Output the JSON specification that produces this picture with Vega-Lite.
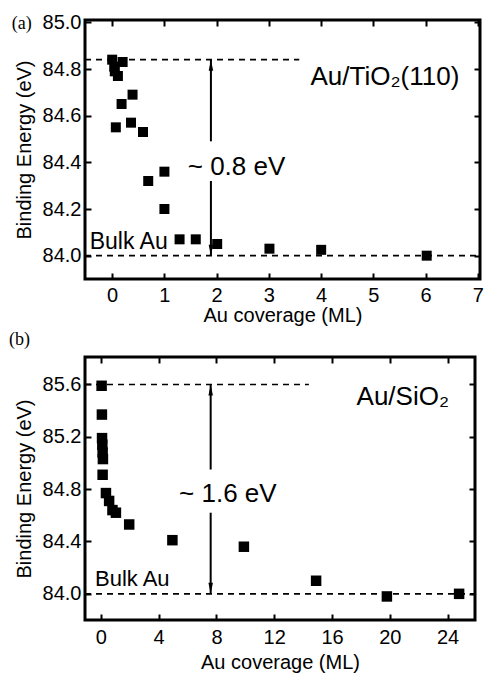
{
  "$schema": "https://vega.github.io/schema/vega-lite/v6.json",
  "padding": {"left": 7, "top": 10, "right": 0, "bottom": 2},
  "spacing": 2,
  "config": {
    "font": "Liberation Sans",
    "view": {"stroke": "black", "strokeWidth": 3},
    "axis": {
      "grid": false,
      "domain": false,
      "tickColor": "black",
      "tickWidth": 2,
      "tickSize": -6,
      "labelColor": "black",
      "labelFont": "Liberation Sans",
      "labelFontSize": 20,
      "labelFontWeight": "normal",
      "titleColor": "black",
      "titleFont": "Liberation Sans",
      "titleFontSize": 20,
      "titleFontWeight": "normal"
    }
  },
  "datasets": {
    "a_points": [
      {"x": 0.0, "y": 84.84}, {"x": 0.04, "y": 84.81}, {"x": 0.2, "y": 84.83},
      {"x": 0.05, "y": 84.79}, {"x": 0.11, "y": 84.77}, {"x": 0.18, "y": 84.65},
      {"x": 0.39, "y": 84.69}, {"x": 0.07, "y": 84.55}, {"x": 0.36, "y": 84.57},
      {"x": 0.59, "y": 84.53}, {"x": 0.69, "y": 84.32}, {"x": 1.0, "y": 84.36},
      {"x": 1.0, "y": 84.2}, {"x": 1.29, "y": 84.07}, {"x": 1.6, "y": 84.07},
      {"x": 2.01, "y": 84.05}, {"x": 3.01, "y": 84.03}, {"x": 4.0, "y": 84.025},
      {"x": 6.02, "y": 84.0}
    ],
    "a_lines": [{"x": -0.52, "x2": 3.58, "y": 84.84}, {"x": -0.52, "x2": 7.04, "y": 84.0}],
    "a_arrow": [{"x": 1.89, "y": 84.84, "y2": 84.49}, {"x": 1.89, "y": 84.32, "y2": 84.0}],
    "a_heads": [{"x": 1.89, "y": 84.84, "dir": "up"}, {"x": 1.89, "y": 84.0, "dir": "down"}],
    "b_points": [
      {"x": 0.05, "y": 85.59}, {"x": 0.07, "y": 85.37}, {"x": 0.08, "y": 85.19},
      {"x": 0.1, "y": 85.14}, {"x": 0.12, "y": 85.08}, {"x": 0.14, "y": 85.03},
      {"x": 0.12, "y": 84.91}, {"x": 0.35, "y": 84.77}, {"x": 0.57, "y": 84.71},
      {"x": 0.8, "y": 84.64}, {"x": 1.04, "y": 84.62}, {"x": 1.96, "y": 84.53},
      {"x": 4.95, "y": 84.41}, {"x": 9.9, "y": 84.36}, {"x": 14.9, "y": 84.1},
      {"x": 19.8, "y": 83.98}, {"x": 24.8, "y": 84.0}
    ],
    "b_lines": [{"x": -1.1, "x2": 14.4, "y": 85.6}, {"x": -1.1, "x2": 25.9, "y": 84.0}],
    "b_arrow": [{"x": 7.6, "y": 85.6, "y2": 84.95}, {"x": 7.6, "y": 84.62, "y2": 84.0}],
    "b_heads": [{"x": 7.6, "y": 85.6, "dir": "up"}, {"x": 7.6, "y": 84.0, "dir": "down"}]
  },
  "vconcat": [
    {
      "width": 395,
      "height": 259,
      "resolve": {"axis": {"x": "independent", "y": "independent"}},
      "layer": [
        {
          "data": {"name": "a_points"},
          "mark": {"type": "square", "size": 100, "color": "black", "opacity": 1},
          "encoding": {
            "x": {"field": "x", "type": "quantitative",
                  "scale": {"domain": [-0.52, 7.04], "nice": false, "zero": false},
                  "axis": {"orient": "bottom", "values": [0, 1, 2, 3, 4, 5, 6, 7], "format": "d", "labelPadding": 12, "title": "Au coverage (ML)", "titlePadding": 0}},
            "y": {"field": "y", "type": "quantitative",
                  "scale": {"domain": [83.9, 85.01], "nice": false, "zero": false},
                  "axis": {"orient": "left", "values": [84.0, 84.2, 84.4, 84.6, 84.8, 85.0], "format": ".1f", "labelPadding": 10, "title": "Binding Energy (eV)", "titlePadding": 8}}
          }
        },
        {
          "data": {"name": "a_lines"},
          "mark": {"type": "rule", "color": "black", "strokeWidth": 1.6, "strokeDash": [6, 5]},
          "encoding": {
            "x": {"field": "x", "type": "quantitative",
                  "scale": {"domain": [-0.52, 7.04], "nice": false, "zero": false},
                  "axis": {"orient": "top", "values": [0, 1, 2, 3, 4, 5, 6, 7], "labels": false, "title": null}},
            "x2": {"field": "x2"},
            "y": {"field": "y", "type": "quantitative",
                  "scale": {"domain": [83.9, 85.01], "nice": false, "zero": false},
                  "axis": {"orient": "right", "values": [84.0, 84.2, 84.4, 84.6, 84.8, 85.0], "labels": false, "title": null}}
          }
        },
        {
          "data": {"name": "a_arrow"},
          "mark": {"type": "rule", "color": "black", "strokeWidth": 2},
          "encoding": {
            "x": {"field": "x", "type": "quantitative", "axis": null},
            "y": {"field": "y", "type": "quantitative", "axis": null},
            "y2": {"field": "y2"}
          }
        },
        {
          "data": {"name": "a_heads"},
          "mark": {"type": "point", "filled": true, "color": "black", "opacity": 1, "size": 100},
          "encoding": {
            "x": {"field": "x", "type": "quantitative", "axis": null},
            "y": {"field": "y", "type": "quantitative", "axis": null},
            "shape": {"field": "dir", "type": "nominal", "legend": null,
                      "scale": {"domain": ["up", "down"], "range": ["M0,0L-0.45,2.2L0.45,2.2Z", "M0,0L-0.45,-2.2L0.45,-2.2Z"]}}
          }
        },
        {
          "data": {"values": [{"x": 2.38, "y": 84.38, "label": "~ 0.8 eV"}]},
          "mark": {"type": "text", "fontSize": 26, "align": "center", "baseline": "middle", "color": "black"},
          "encoding": {
            "x": {"field": "x", "type": "quantitative", "axis": null},
            "y": {"field": "y", "type": "quantitative", "axis": null},
            "text": {"field": "label"}
          }
        },
        {
          "data": {"values": [{"x": 5.22, "y": 84.73, "label": "Au/TiO₂(110)"}]},
          "mark": {"type": "text", "fontSize": 26, "align": "center", "baseline": "alphabetic", "color": "black"},
          "encoding": {
            "x": {"field": "x", "type": "quantitative", "axis": null},
            "y": {"field": "y", "type": "quantitative", "axis": null},
            "text": {"field": "label"}
          }
        },
        {
          "data": {"values": [{"x": -0.43, "y": 84.03, "label": "Bulk Au"}]},
          "mark": {"type": "text", "fontSize": 23, "align": "left", "baseline": "alphabetic", "color": "black"},
          "encoding": {
            "x": {"field": "x", "type": "quantitative", "axis": null},
            "y": {"field": "y", "type": "quantitative", "axis": null},
            "text": {"field": "label"}
          }
        },
        {
          "data": {"values": [{"x": -1.92, "y": 84.973, "label": "(a)"}]},
          "mark": {"type": "text", "font": "Liberation Serif", "fontSize": 18, "align": "left", "baseline": "alphabetic", "color": "black"},
          "encoding": {
            "x": {"field": "x", "type": "quantitative", "axis": null},
            "y": {"field": "y", "type": "quantitative", "axis": null},
            "text": {"field": "label"}
          }
        }
      ]
    },
    {
      "width": 390,
      "height": 263,
      "resolve": {"axis": {"x": "independent", "y": "independent"}},
      "layer": [
        {
          "data": {"name": "b_points"},
          "mark": {"type": "square", "size": 110, "color": "black", "opacity": 1},
          "encoding": {
            "x": {"field": "x", "type": "quantitative",
                  "scale": {"domain": [-1.1, 25.9], "nice": false, "zero": false},
                  "axis": {"orient": "bottom", "values": [0, 4, 8, 12, 16, 20, 24], "format": "d", "labelPadding": 13, "title": "Au coverage (ML)", "titlePadding": 5}},
            "y": {"field": "y", "type": "quantitative",
                  "scale": {"domain": [83.8, 85.81], "nice": false, "zero": false},
                  "axis": {"orient": "left", "values": [84.0, 84.4, 84.8, 85.2, 85.6], "format": ".1f", "labelPadding": 10, "title": "Binding Energy (eV)", "titlePadding": 8}}
          }
        },
        {
          "data": {"name": "b_lines"},
          "mark": {"type": "rule", "color": "black", "strokeWidth": 1.6, "strokeDash": [6, 5]},
          "encoding": {
            "x": {"field": "x", "type": "quantitative",
                  "scale": {"domain": [-1.1, 25.9], "nice": false, "zero": false},
                  "axis": {"orient": "top", "values": [0, 4, 8, 12, 16, 20, 24], "labels": false, "title": null}},
            "x2": {"field": "x2"},
            "y": {"field": "y", "type": "quantitative",
                  "scale": {"domain": [83.8, 85.81], "nice": false, "zero": false},
                  "axis": {"orient": "right", "values": [84.0, 84.4, 84.8, 85.2, 85.6], "labels": false, "title": null}}
          }
        },
        {
          "data": {"name": "b_arrow"},
          "mark": {"type": "rule", "color": "black", "strokeWidth": 2},
          "encoding": {
            "x": {"field": "x", "type": "quantitative", "axis": null},
            "y": {"field": "y", "type": "quantitative", "axis": null},
            "y2": {"field": "y2"}
          }
        },
        {
          "data": {"name": "b_heads"},
          "mark": {"type": "point", "filled": true, "color": "black", "opacity": 1, "size": 100},
          "encoding": {
            "x": {"field": "x", "type": "quantitative", "axis": null},
            "y": {"field": "y", "type": "quantitative", "axis": null},
            "shape": {"field": "dir", "type": "nominal", "legend": null,
                      "scale": {"domain": ["up", "down"], "range": ["M0,0L-0.45,2.2L0.45,2.2Z", "M0,0L-0.45,-2.2L0.45,-2.2Z"]}}
          }
        },
        {
          "data": {"values": [{"x": 8.79, "y": 84.76, "label": "~ 1.6 eV"}]},
          "mark": {"type": "text", "fontSize": 26, "align": "center", "baseline": "middle", "color": "black"},
          "encoding": {
            "x": {"field": "x", "type": "quantitative", "axis": null},
            "y": {"field": "y", "type": "quantitative", "axis": null},
            "text": {"field": "label"}
          }
        },
        {
          "data": {"values": [{"x": 20.9, "y": 85.44, "label": "Au/SiO₂"}]},
          "mark": {"type": "text", "fontSize": 26, "align": "center", "baseline": "alphabetic", "color": "black"},
          "encoding": {
            "x": {"field": "x", "type": "quantitative", "axis": null},
            "y": {"field": "y", "type": "quantitative", "axis": null},
            "text": {"field": "label"}
          }
        },
        {
          "data": {"values": [{"x": -0.41, "y": 84.06, "label": "Bulk Au"}]},
          "mark": {"type": "text", "fontSize": 22, "align": "left", "baseline": "alphabetic", "color": "black"},
          "encoding": {
            "x": {"field": "x", "type": "quantitative", "axis": null},
            "y": {"field": "y", "type": "quantitative", "axis": null},
            "text": {"field": "label"}
          }
        },
        {
          "data": {"values": [{"x": -6.36, "y": 85.9, "label": "(b)"}]},
          "mark": {"type": "text", "font": "Liberation Serif", "fontSize": 18, "align": "left", "baseline": "alphabetic", "color": "black"},
          "encoding": {
            "x": {"field": "x", "type": "quantitative", "axis": null},
            "y": {"field": "y", "type": "quantitative", "axis": null},
            "text": {"field": "label"}
          }
        }
      ]
    }
  ]
}
